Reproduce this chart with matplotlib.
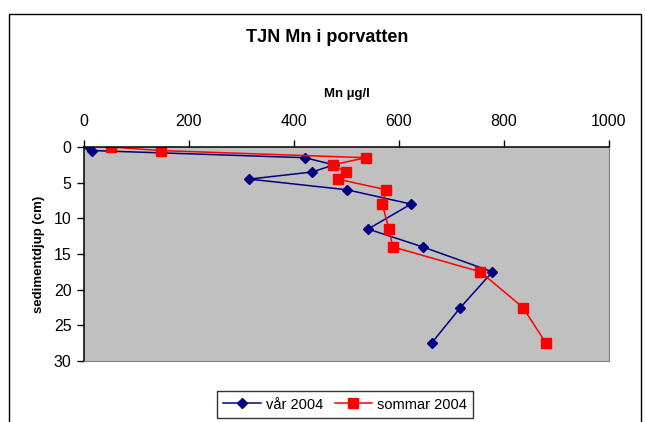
import matplotlib
matplotlib.use("Agg")
from matplotlib import pyplot as plt
from matplotlib.patches import Rectangle

# Mn i porvatten, TJN (µg/l mot sedimentdjup i cm)
djup_var = [0, 0.5, 1.5, 2.5, 3.5, 4.5, 6, 8, 11.5, 14, 17.5, 22.5, 27.5]
mn_var = [10, 16, 421, 476, 435, 315, 501, 623, 541, 645, 778, 717, 662]

djup_sommar = [0, 0.5, 1.5, 2.5, 3.5, 4.5, 6, 8, 11.5, 14, 17.5, 22.5, 27.5]
mn_sommar = [52, 146, 537, 474, 499, 483, 576, 568, 581, 588, 755, 836, 880]

xticks = [0, 200, 400, 600, 800, 1000]
yticks = [0, 5, 10, 15, 20, 25, 30]

plt.rcParams['font.family'] = ['Liberation Sans', 'DejaVu Sans']

W, H = 645, 422
fig = plt.figure(figsize=(W / 100, H / 100), dpi=100)

# ram runt hela diagrammet
fig.patches.append(Rectangle((9 / W, -0.1), 632 / W, 1.1 - 14 / H,
                             transform=fig.transFigure, fill=False,
                             edgecolor='black', linewidth=1.0))

ax = fig.add_axes([84 / W, (H - 361) / H, 525 / W, 214 / H])
ax.set_facecolor('#C0C0C0')

ax.plot(mn_var, djup_var, color='#000080', marker='D', markersize=5.5,
        linewidth=1.1, label='vår 2004')
ax.plot(mn_sommar, djup_sommar, color='#FF0000', marker='s', markersize=6.5,
        linewidth=1.1, label='sommar 2004')

ax.set_xlim(0, 1000)
ax.set_ylim(30, 0)
ax.set_xticks(xticks)
ax.set_yticks(yticks)
ax.xaxis.tick_top()
ax.xaxis.set_label_position('top')
ax.tick_params(axis='both', direction='out', length=5, width=1,
               labelsize=11.5, color='black')
ax.tick_params(axis='x', pad=8)
ax.tick_params(axis='y', pad=4)

for s in ['right', 'bottom']:
    ax.spines[s].set_color('#808080')
for s in ['left', 'top']:
    ax.spines[s].set_color('black')
    ax.spines[s].set_linewidth(1.1)

ax.set_xlabel('Mn µg/l', fontsize=9.5, fontweight='bold', labelpad=12)
ax.set_ylabel('sedimentdjup (cm)', fontsize=9.5, fontweight='bold', labelpad=6)

fig.text(327 / W, 1 - 37 / H, 'TJN Mn i porvatten', ha='center', va='center',
         fontsize=13, fontweight='bold')

leg = fig.legend(loc='upper center', bbox_to_anchor=(345 / W, 1 - 391 / H),
                 ncol=2, fontsize=10.5, frameon=True, fancybox=False,
                 edgecolor='black', handlelength=2.6, columnspacing=0.8,
                 handletextpad=0.3, borderpad=0.45, borderaxespad=0)
leg.get_frame().set_linewidth(1.0)

fig.savefig('out.png', dpi=100)
